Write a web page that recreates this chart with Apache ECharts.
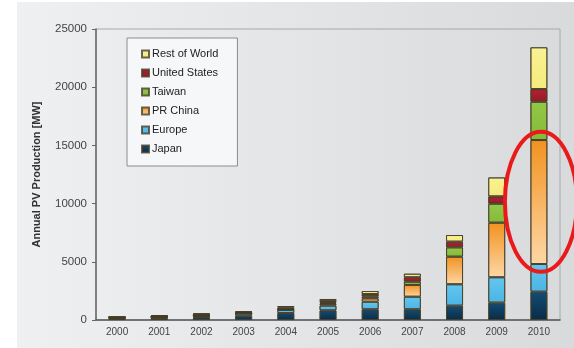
<!DOCTYPE html>
<html>
<head>
<meta charset="utf-8">
<script src="https://cdn.jsdelivr.net/npm/echarts@6/dist/echarts.min.js"></script>
<style>
html,body{margin:0;padding:0;background:#fff;}
#chart{width:574px;height:348px;}
</style>
</head>
<body>
<div id="chart"></div>
<script>
var years = ['2000','2001','2002','2003','2004','2005','2006','2007','2008','2009','2010'];
var japan  = [130, 170, 250, 360, 600, 830, 920, 920, 1230, 1490, 2430];
var europe = [60, 90, 135, 195, 260, 400, 650, 1080, 1840, 2180, 2380];
var china  = [0, 0, 0, 10, 40, 150, 290, 1010, 2370, 4690, 10650];
var taiwan = [0, 0, 0, 15, 40, 90, 170, 280, 800, 1630, 3290];
var usa    = [75, 100, 120, 105, 140, 155, 200, 380, 490, 630, 1090];
var rest   = [15, 40, 55, 70, 120, 180, 260, 310, 570, 1630, 3590];
var yTicks = [0, 5000, 10000, 15000, 20000, 25000];

function grad(top, bottom) {
    return {type:'linear', x:0, y:0, x2:0, y2:1, colorStops:[{offset:0, color:top}, {offset:1, color:bottom}]};
}
function bar(name, data, color) {
    return {
        name: name,
        type: 'bar',
        stack: 'pv',
        barWidth: 17,
        data: data,
        itemStyle: {
            color: color,
            borderColor: 'rgba(70,62,42,0.8)',
            borderWidth: 1
        }
    };
}

var background = {
    type: 'rect',
    z: -10,
    silent: true,
    shape: {x: 17, y: 2, width: 557, height: 346},
    style: {fill: {type:'linear', x:0, y:0, x2:1, y2:0, colorStops:[{offset:0, color:'#eef0f1'}, {offset:1, color:'#d8dadc'}]}}
};

var myChart = echarts.init(document.getElementById('chart'));
var option = {
    animation: false,
    textStyle: {fontFamily: 'Liberation Sans, Arial, sans-serif'},
    graphic: [background],
    legend: {
        orient: 'vertical',
        left: 127,
        top: 38,
        padding: [10, 19, 11, 14],
        itemGap: 7,
        itemWidth: 7,
        itemHeight: 7,
        icon: 'rect',
        backgroundColor: '#f6f7f8',
        borderColor: '#8c8c8c',
        borderWidth: 1,
        data: ['Rest of World', 'United States', 'Taiwan', 'PR China', 'Europe', 'Japan'],
        textStyle: {color: '#222', fontSize: 11, lineHeight: 12, padding: [0, 0, 0, -2]}
    },
    grid: {
        left: 96,
        right: 14,
        top: 29,
        bottom: 28,
        show: true,
        borderColor: '#a6aaae',
        borderWidth: 1
    },
    xAxis: {
        type: 'category',
        data: years,
        axisLine: {lineStyle: {color: '#555', width: 1.5}},
        axisTick: {length: 3, lineStyle: {color: '#555'}},
        axisLabel: {color: '#444', fontSize: 10, margin: 7}
    },
    yAxis: {
        type: 'value',
        min: 0,
        max: 25000,
        interval: 5000,
        name: 'Annual PV Production [MW]',
        nameLocation: 'middle',
        nameGap: 54,
        nameTextStyle: {color: '#333', fontSize: 11, fontWeight: 'bold'},
        axisLine: {show: true, lineStyle: {color: '#666', width: 1.5}},
        axisTick: {show: true, length: 4, lineStyle: {color: '#666'}},
        axisLabel: {
            color: '#444',
            fontSize: 11.5,
            margin: 9,
            formatter: function (v) { return yTicks.indexOf(v) >= 0 ? String(v) : ''; }
        },
        splitLine: {show: false}
    },
    series: [
        bar('Japan', japan, grad('#134c74', '#0a2c46')),
        bar('Europe', europe, grad('#62c6ef', '#4cb5e4')),
        bar('PR China', china, grad('#f29220', '#fdd7a6')),
        bar('Taiwan', taiwan, grad('#93c846', '#84bb38')),
        bar('United States', usa, grad('#b0222f', '#971a26')),
        bar('Rest of World', rest, grad('#f9f292', '#f5ea7c'))
    ]
};
myChart.setOption(option);

// red annotation ellipse around the 2010 China segment
var c = myChart.convertToPixel({gridIndex: 0}, ['2010', 10150]);
myChart.setOption({
    graphic: [background, {
        type: 'ellipse',
        z: 100,
        silent: true,
        shape: {cx: c[0] + 2, cy: c[1], rx: 36, ry: 70},
        style: {fill: null, stroke: '#ea1a1a', lineWidth: 4}
    }]
});
</script>
</body>
</html>
